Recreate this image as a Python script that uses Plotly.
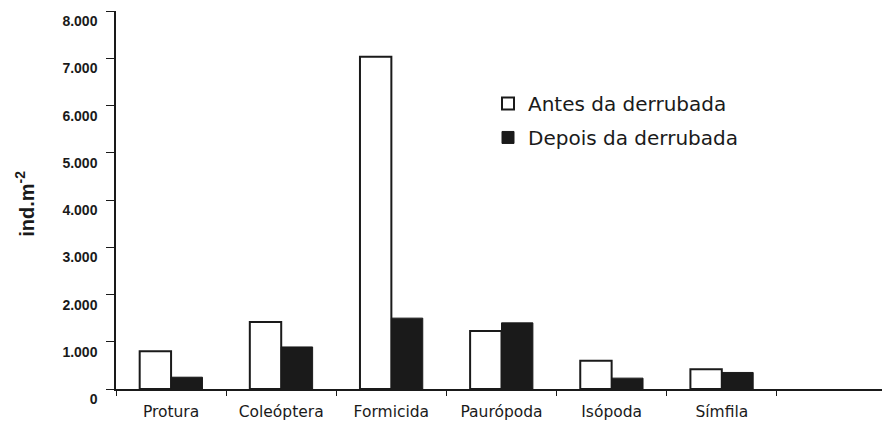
import plotly.graph_objects as go

categories = ["Protura", "Coleóptera", "Formicida", "Paurópoda", "Isópoda", "Símfila", " "]
antes = [800, 1420, 7030, 1230, 600, 420, None]
depois = [250, 890, 1500, 1400, 230, 350, None]
y_ticks = [0, 1000, 2000, 3000, 4000, 5000, 6000, 7000, 8000]

fig = go.Figure()
fig.add_trace(go.Bar(
    x=categories, y=antes, name="Antes da derrubada", legendgroup="a",
    marker=dict(color="white", line=dict(color="#1a1a1a", width=2)),
))
fig.add_trace(go.Bar(
    x=categories, y=depois, name="Depois da derrubada", legendgroup="b",
    marker=dict(color="#1a1a1a", line=dict(color="#1a1a1a", width=1)),
))

# the page body adds an 8px offset; figure sized to fill the remaining window
fig.update_layout(
    width=882, height=413,
    margin=dict(l=108, r=3, t=3, b=32),
    plot_bgcolor="white", paper_bgcolor="white",
    separators=",.",
    barmode="group", bargap=0.43, bargroupgap=0,
    showlegend=True,
    legend=dict(
        x=0.4825, y=0.807, xanchor="left", yanchor="top",
        font=dict(family="DejaVu Sans", size=20, color="#1a1a1a"),
        bgcolor="rgba(0,0,0,0)", tracegroupgap=5,
    ),
    xaxis=dict(
        categoryorder="array", categoryarray=categories,
        range=[-0.5, 6.5], automargin=False,
        showline=True, linecolor="#1a1a1a", linewidth=1.5,
        ticks="outside", tickson="boundaries", ticklen=5, tickcolor="#1a1a1a",
        ticklabelstandoff=8,
        tickfont=dict(family="DejaVu Sans", size=15.5, color="#1a1a1a"),
        showgrid=False, zeroline=False,
    ),
    yaxis=dict(
        range=[0, 8001], tickvals=y_ticks, tickformat=",d", automargin=False,
        showline=True, linecolor="#1a1a1a", linewidth=1.5,
        ticks="outside", ticklen=8, tickcolor="#1a1a1a",
        ticklabelposition="outside bottom",
        ticklabelstandoff=14, ticklabeloverflow="allow",
        tickfont=dict(family="Liberation Sans", size=14, color="#1a1a1a", weight="bold"),
        showgrid=False, zeroline=False,
    ),
    annotations=[dict(
        text="<b>ind.m<sup>-2</sup></b>", textangle=-90,
        xref="paper", yref="paper", x=-0.118, y=0.49,
        xanchor="center", yanchor="middle", showarrow=False,
        font=dict(family="Liberation Sans", size=20, color="#1a1a1a"),
    )],
)

fig.write_html("out.html")
